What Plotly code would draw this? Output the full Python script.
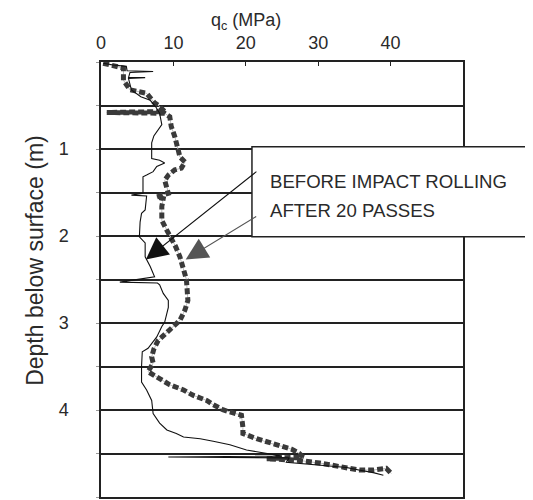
import plotly.graph_objects as go

# ---- data ----
before_depth = [0.015, 0.035, 0.05, 0.10, 0.11, 0.12, 0.18, 0.18, 0.19, 0.25, 0.32, 0.40, 0.44, 0.52,
                0.59, 0.72, 0.78, 0.85, 0.93, 1.11, 1.13, 1.16, 1.20, 1.26, 1.30, 1.32, 1.51, 1.53,
                1.54, 1.70, 1.74, 1.84, 2.01, 2.08, 2.24, 2.35, 2.47, 2.53, 2.54, 2.56, 2.66, 2.74,
                2.82, 2.99, 3.04, 3.16, 3.29, 3.33, 3.50, 3.68, 3.77, 3.89, 4.04, 4.15, 4.23, 4.27,
                4.31, 4.33, 4.36, 4.40, 4.46, 4.48, 4.53, 4.54, 4.55, 4.60, 4.63, 4.66, 4.69, 4.72, 4.75]
before_qc = [0.3, 1.7, 3.5, 3.6, 7.2, 4.0, 3.8, 6.1, 3.8, 4.0, 4.2, 5.5, 6.8, 7.6,
             8.1, 8.4, 7.9, 7.3, 7.0, 7.0, 8.1, 8.8, 7.7, 7.2, 6.3, 5.8, 5.8, 4.2,
             6.3, 6.1, 5.6, 5.4, 5.3, 6.1, 6.1, 6.8, 7.4, 2.6, 7.8, 8.1, 8.6, 9.3,
             9.3, 8.8, 8.4, 7.7, 6.5, 5.7, 5.6, 5.6, 6.3, 7.0, 7.2, 8.1, 9.1, 10.4,
             11.4, 13.7, 15.5, 17.8, 20.1, 21.5, 25.0, 9.3, 26.0, 25.6, 29.3, 33.9, 35.6, 37.6, 39.0]

after_depth = [0.015, 0.04, 0.07, 0.15, 0.21, 0.27, 0.32, 0.36, 0.44, 0.47, 0.51, 0.57, 0.58, 0.59,
               0.63, 0.74, 0.86, 1.01, 1.09, 1.15, 1.22, 1.24, 1.30, 1.36, 1.43, 1.51, 1.55, 1.57,
               1.66, 1.82, 1.92, 2.02, 2.12, 2.24, 2.37, 2.50, 2.74, 2.85, 2.97, 3.08, 3.20, 3.30,
               3.39, 3.46, 3.56, 3.64, 3.71, 3.77, 3.83, 3.89, 3.94, 4.00, 4.06, 4.20, 4.27, 4.33,
               4.38, 4.42, 4.45, 4.50, 4.54, 4.56, 4.58, 4.61, 4.65, 4.69, 4.69, 4.67, 4.73]
after_qc = [0.3, 1.5, 3.1, 3.1, 3.1, 3.6, 4.0, 6.3, 7.2, 7.4, 8.1, 8.8, 0.8, 8.8,
            9.5, 9.7, 10.2, 10.7, 10.9, 11.6, 11.1, 10.2, 9.3, 8.8, 9.1, 9.3, 7.7, 8.6,
            8.4, 8.4, 9.0, 9.7, 10.3, 10.9, 11.4, 11.8, 12.0, 11.6, 10.9, 9.5, 7.9, 7.3,
            7.0, 7.2, 6.5, 8.1, 9.5, 11.4, 12.7, 14.6, 15.5, 16.9, 19.4, 19.6, 19.6, 21.5,
            23.3, 25.1, 26.3, 27.4, 27.9, 22.9, 27.4, 30.2, 33.4, 35.7, 37.6, 39.4, 40.1]

x_ticks = [0, 10, 20, 30, 40]
y_ticks = [0, 0.5, 1, 1.5, 2, 2.5, 3, 3.5, 4, 4.5, 5]
y_ticktext = ["", "", "1", "", "2", "", "3", "", "4", "", ""]

labels = ["BEFORE IMPACT ROLLING", "AFTER 20 PASSES"]

FONT = "Liberation Sans, Arial, sans-serif"
TXT = "#2a2a2a"

fig = go.Figure()
fig.add_trace(go.Scatter(x=after_qc, y=after_depth, mode="lines",
                         line=dict(color="#bdbdbd", width=1), hoverinfo="skip", showlegend=False))
fig.add_trace(go.Scatter(x=after_qc, y=after_depth, mode="lines", name=labels[1],
                         line=dict(color="#3a3a3a", width=5, dash="6px,3px"), showlegend=False))
fig.add_trace(go.Scatter(x=before_qc, y=before_depth, mode="lines", name=labels[0],
                         line=dict(color="#111111", width=1.1), showlegend=False))

# the page body has an 8px default margin, so the figure is 8px smaller
fig.update_layout(
    width=525, height=492,
    margin=dict(l=93, r=70, t=54, b=3, autoexpand=False),
    paper_bgcolor="white", plot_bgcolor="white",
    font=dict(family=FONT, size=18, color=TXT),
    xaxis=dict(side="top", range=[0, 50], tickvals=x_ticks, ticks="inside", ticklen=4,
               tickcolor="#222", showline=True, linecolor="#222", linewidth=1.5, mirror=True,
               showgrid=False, zeroline=False, ticklabelstandoff=4, automargin=False,
               tickfont=dict(size=18, color=TXT)),
    yaxis=dict(range=[5, 0], tickvals=y_ticks, ticktext=y_ticktext, ticks="outside", ticklen=3,
               tickcolor="#999", showline=True, linecolor="#222", linewidth=1.5, mirror=True,
               showgrid=True, gridcolor="#222", gridwidth=1.5, zeroline=False, automargin=False,
               ticklabelstandoff=24, tickfont=dict(size=18, color=TXT)),
    shapes=[dict(type="rect", xref="paper", yref="paper", x0=0.417, x1=1.25, y0=0.598, y1=0.805,
                 line=dict(color="#222", width=1.5), fillcolor="white", layer="above")],
)

fig.add_annotation(x=0.40, y=1.0, xref="paper", yref="paper", yshift=54, showarrow=False,
                   text="q<sub>c</sub> (MPa)", font=dict(size=18, color=TXT))
fig.add_annotation(x=-0.224, y=0.545, xref="paper", yref="paper", showarrow=False, textangle=-90,
                   text="Depth below surface (m)", font=dict(size=23, color=TXT))
fig.add_annotation(x=0.462, y=0.754, xref="paper", yref="paper", showarrow=False, xanchor="left",
                   text=labels[0], font=dict(size=18.6, color=TXT))
fig.add_annotation(x=0.462, y=0.688, xref="paper", yref="paper", showarrow=False, xanchor="left",
                   text=labels[1], font=dict(size=18.6, color=TXT))
# arrows
fig.add_annotation(x=6.2, y=2.27, ax=112, ay=-89, text="", showarrow=True, arrowhead=2,
                   arrowsize=4, arrowwidth=1.1, arrowcolor="#111")
fig.add_annotation(x=11.7, y=2.27, ax=72, ay=-44, text="", showarrow=True, arrowhead=2,
                   arrowsize=4, arrowwidth=1.1, arrowcolor="#555")

fig.write_html("out.html")
